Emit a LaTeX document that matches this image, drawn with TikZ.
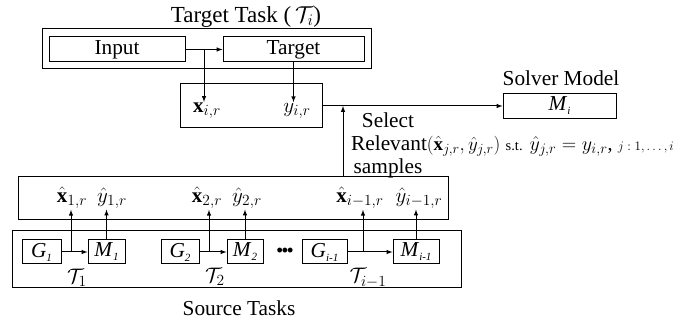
\RequirePackage{fix-cm}
\documentclass[tikz,border=0pt]{standalone}
\usepackage{amsmath}
\usepackage{fontspec}
\setmainfont{Liberation Serif}
\DeclareMathSizes{21}{21}{15.5}{11}
\DeclareMathSizes{19}{19}{14}{10}
\DeclareMathSizes{20}{20}{14.5}{10.5}

\begin{document}
\begin{tikzpicture}
[x=1pt,y=-1pt,
 every node/.style={font=\fontsize{21.3}{25}\selectfont},
 box/.style={draw,line width=1pt,inner sep=0pt},
 lbl/.style={inner sep=1pt,font=\fontsize{21}{25}\selectfont},
 arr/.style={-latex,line width=1pt}]
\useasboundingbox (0,0) rectangle (694,323);

% target task
\node[anchor=base,font=\fontsize{23}{27}\selectfont] (t0) at (246,22.5) {Target Task (\,$\mathcal{T}_i$)};
\node[box,minimum width=329pt,minimum height=40pt] (t1) at (206.5,49) {};
\node[box,minimum width=136pt,minimum height=25pt] (t2) at (117,49.5) {Input};
\node[box,minimum width=141pt,minimum height=25pt] (t3) at (293.5,49.5) {Target};
\node[box,minimum width=142pt,minimum height=44pt] (t4) at (251,106) {};
\node[lbl] (t5) at (207,111) {$\mathbf{x}_{i,r}$};
\node[lbl] (t6) at (297,111) {$y_{i,r}$};
\coordinate (c1) at (204,49.5);

% solver
\node (s0) at (561,78) {Solver Model};
\node[box,minimum width=113pt,minimum height=25pt] (s1) at (559.5,106) {\textit{M}\raisebox{-4pt}{\fontsize{11}{11}\selectfont\textit{i}}};
\coordinate (c2) at (343,106);

\node (r1) at (388,120) {Select};
\node[anchor=west,inner sep=0pt] (r2) at (351,146) {Relevant{\fontsize{19}{22}\selectfont$(\hat{\mathbf{x}}_{j,r},\hat{y}_{j,r})$} {\fontsize{14.5}{17}\selectfont s.t.} {\fontsize{20}{22}\selectfont$\hat{y}_{j,r}=y_{i,r}$,} {\fontsize{13}{16}\selectfont$j:1,\ldots,i$}};
\node (r3) at (388,168) {samples};

% source tasks
\node[box,minimum width=430pt,minimum height=43pt] (p1) at (233,198.5) {};
\node[box,minimum width=449pt,minimum height=57pt] (q0) at (236.5,259.5) {};

\node[box,minimum width=39pt,minimum height=24pt] (g1) at (41.5,252) {\textit{G}\raisebox{-4pt}{\fontsize{11}{11}\selectfont\textit{1}}};
\node[box,minimum width=37pt,minimum height=24pt] (m1) at (106.5,252) {\textit{M}\raisebox{-4pt}{\fontsize{11}{11}\selectfont\textit{1}}};
\node[box,minimum width=38pt,minimum height=24pt] (g2) at (180,252) {\textit{G}\raisebox{-4pt}{\fontsize{11}{11}\selectfont\textit{2}}};
\node[box,minimum width=36pt,minimum height=24pt] (m2) at (245,252) {\textit{M}\raisebox{-4pt}{\fontsize{11}{11}\selectfont\textit{2}}};
\node (d1) at (285,252) {\fontsize{18}{18}\selectfont\textbf{\textbullet\kern-1pt\textbullet\kern-1pt\textbullet}};
\node[box,minimum width=45pt,minimum height=24pt] (g3) at (324.5,252) {\textit{G}\raisebox{-4pt}{\fontsize{11}{11}\selectfont\textit{i-1}}};
\node[box,minimum width=46pt,minimum height=24pt] (m3) at (416,252) {\textit{M}\raisebox{-4pt}{\fontsize{11}{11}\selectfont\textit{i-1}}};

\node[lbl] (u1) at (77,278) {$\mathcal{T}_1$};
\node[lbl] (u2) at (215,277) {$\mathcal{T}_2$};
\node[lbl] (u3) at (368,278) {$\mathcal{T}_{i-1}$};
\node (u4) at (239,308) {Source Tasks};

\node[lbl] (h1) at (72,198) {$\hat{\mathbf{x}}_{1,r}$};
\node[lbl] (k1) at (112,198) {$\hat{y}_{1,r}$};
\node[lbl] (h2) at (207,198) {$\hat{\mathbf{x}}_{2,r}$};
\node[lbl] (k2) at (247,198) {$\hat{y}_{2,r}$};
\node[lbl] (h3) at (360,198) {$\hat{\mathbf{x}}_{i-1,r}$};
\node[lbl] (k3) at (419,198) {$\hat{y}_{i-1,r}$};

\coordinate (b1) at (71,252);
\coordinate (b2) at (209,252);
\coordinate (b3) at (363,252);

\draw[arr] (t2) -- (t3);
\draw[arr] (c1) -- (c1 |- t5.north);
\draw[arr] (t3.south) -- (t3.south |- t6.north);
\draw[arr] (t4) -- (s1);
\draw[arr] (c2 |- p1.north) -- (c2);

\foreach \from/\to in {g1/m1,g2/m2,g3/m3}
\draw[arr] (\from) -- (\to);
\foreach \from/\to in {b1/h1,b2/h2,b3/h3}
\draw[arr] (\from) -- (\from |- \to.south);
\foreach \from/\to in {m1/k1,m2/k2,m3/k3}
\draw[arr] (\from.north) -- (\from.north |- \to.south);
\end{tikzpicture}
\end{document}
